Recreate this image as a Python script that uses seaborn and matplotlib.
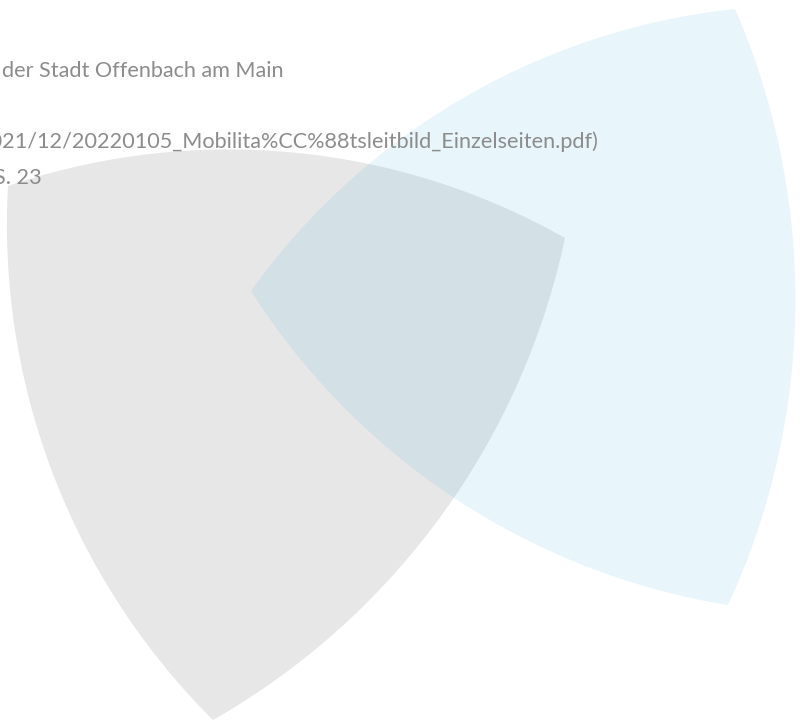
import numpy as np
import pandas as pd
import matplotlib
matplotlib.use("Agg")
import matplotlib.pyplot as plt
import seaborn as sns

# corner points of the two curved triangles (pixel space of the 803x720 canvas)
grey_x = [8, 565, 213]
grey_y = [186, 238, 720]
blue_x = [251, 735, 728]
blue_y = [291, 9, 605]
bulge = 0.107  # arc height relative to side length

# source note (cut off at the left border in the original)
source_lines = [
    "der Stadt Offenbach am Main",
    "2021/12/20220105_Mobilita%CC%88tsleitbild_Einzelseiten.pdf)",
    "S. 23",
]
source_right = [284, 598, 42]
source_base = [77, 148, 184]


def curved_triangle(xs, ys, k, n=80):
    pts = np.column_stack([xs, ys]).astype(float)
    centroid = pts.mean(axis=0)
    out = []
    for i in range(len(pts)):
        p, q = pts[i], pts[(i + 1) % len(pts)]
        chord = q - p
        c = np.hypot(*chord)
        m = (p + q) / 2
        nrm = np.array([-chord[1], chord[0]]) / c
        if np.dot(m - centroid, nrm) < 0:
            nrm = -nrm
        h = k * c
        r = (h ** 2 + (c / 2) ** 2) / (2 * h)
        ctr = m - (r - h) * nrm
        a0 = np.arctan2(*(p - ctr)[::-1])
        a1 = np.arctan2(*(q - ctr)[::-1])
        da = (a1 - a0 + np.pi) % (2 * np.pi) - np.pi
        t = a0 + da * np.linspace(0, 1, n)
        out.append(np.column_stack([ctr[0] + r * np.cos(t), ctr[1] + r * np.sin(t)]))
    return np.vstack(out)


shapes = pd.DataFrame({
    "shape": ["grau"] * 3 + ["blau"] * 3,
    "x": grey_x + blue_x,
    "y": grey_y + blue_y,
})
palette = {"grau": "#5f5f5f", "blau": "#66bce4"}

sns.set_theme(style="white")
plt.rcParams["font.family"] = ["Lato", "DejaVu Sans"]

fig = plt.figure(figsize=(8.03, 7.2), dpi=100)
ax = fig.add_axes([0, 0, 1, 1])
ax.set_xlim(0, 803)
ax.set_ylim(720, 0)
ax.axis("off")

for name, grp in shapes.groupby("shape", sort=False):
    outline = curved_triangle(grp["x"].values, grp["y"].values, bulge)
    ax.fill(outline[:, 0], outline[:, 1], color=palette[name], alpha=0.15, lw=0)

for txt, xr, yb in zip(source_lines, source_right, source_base):
    ax.text(xr, yb, txt, ha="right", va="baseline", fontsize=15.6,
            fontweight="normal", color="#8c8c8c")

fig.savefig("out.png", dpi=100)
